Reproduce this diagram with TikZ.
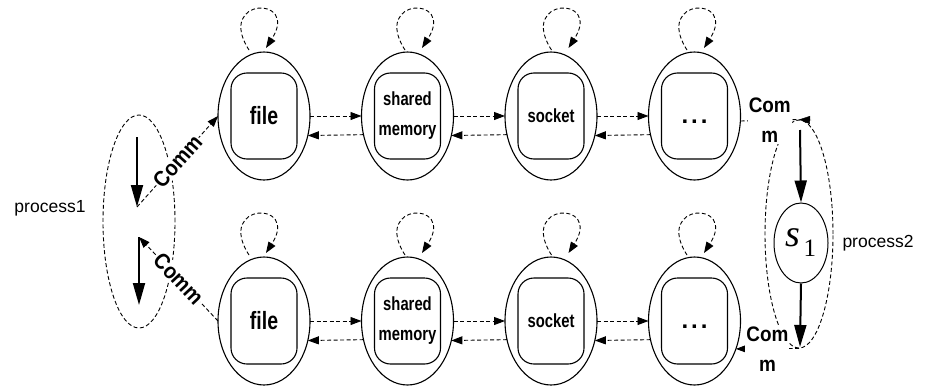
\documentclass[tikz,border=0pt]{standalone}
\usepackage{fontspec}
\usepackage{graphicx}
\setmainfont{Liberation Sans}
\newfontfamily\lblfont[FakeStretch=0.78]{Liberation Sans}
\newfontfamily\commfont[FakeStretch=0.9]{Liberation Sans}
\newfontfamily\seriffont{Liberation Serif}
\usetikzlibrary{shapes.geometric,arrows.meta,calc}
\begin{document}
\begin{tikzpicture}[x=1pt,y=-1pt,
  outerst/.style={ellipse, draw, line width=1.1pt, minimum width=92pt, minimum height=128pt, inner sep=0pt, outer sep=0pt},
  innerst/.style={draw, line width=1.1pt, rounded corners=16pt, minimum width=66pt, minimum height=86pt, inner sep=0pt, align=center, font=\lblfont\bfseries\fontsize{19}{30}\selectfont},
  dotsst/.style={innerst, font=\bfseries\fontsize{24}{24}\selectfont},
  dashst/.style={line width=0.9pt, dash pattern=on 4pt off 2.5pt},
  tipst/.style={-{Triangle[length=11pt,width=8pt]}},
  bigarrow/.style={line width=2pt, -{Triangle[length=22pt,width=12pt]}},
  commlbl/.style={fill=white, inner sep=1pt, font=\commfont\bfseries\fontsize{22}{22}\selectfont},
  commr/.style={fill=white, inner sep=1pt, align=center, font=\commfont\bfseries\fontsize{21}{30}\selectfont},
  proclbl/.style={font=\fontsize{17.5}{20}\selectfont, inner sep=0pt}
]
\useasboundingbox (0,0) rectangle (931,388);

% top row
\node[outerst] (f1) at (264,116) {};
\node[outerst] (m1) at (407.5,116) {};
\node[outerst] (k1) at (551,116) {};
\node[outerst] (d1) at (694.5,116) {};
\node[innerst, font=\lblfont\bfseries\fontsize{25}{25}\selectfont] (f1t) at (f1) {file};
\node[innerst] (m1t) at (m1) {shared\\memory};
\node[innerst] (k1t) at (k1) {socket};
\node[dotsst] (d1t) at (d1) {\smash{\raisebox{-7pt}{.\hspace{3pt}.\hspace{3pt}.}}};

% bottom row
\node[outerst] (f2) at (264,321) {};
\node[outerst] (m2) at (407.5,321) {};
\node[outerst] (k2) at (551,321) {};
\node[outerst] (d2) at (694.5,321) {};
\node[innerst, font=\lblfont\bfseries\fontsize{25}{25}\selectfont] (f2t) at (f2) {file};
\node[innerst] (m2t) at (m2) {shared\\memory};
\node[innerst] (k2t) at (k2) {socket};
\node[dotsst] (d2t) at (d2) {\smash{\raisebox{-7pt}{.\hspace{3pt}.\hspace{3pt}.}}};

% self loops
\foreach \n/\d in {f1/-7, m1/5.5, k1/8.5, d1/0.5, f2/-7, m2/5.5, k2/8.5, d2/0.5} {
  \draw[dashst, tipst] ([shift={(\d-8,-2)}]\n.north) .. controls +(-34,-53) and +(34,-53) .. ([shift={(\d+9,-4)}]\n.north);
}

% horizontal links
\foreach \a/\b in {f1/m1, m1/k1, k1/d1, f2/m2, m2/k2, k2/d2} {
  \draw[dashst, tipst] (\a.east) -- (\b.west);
  \draw[dashst, tipst] (\b.203.4) -- (\a.336.6);
}

% process1
\node[ellipse, draw, dashst, minimum width=72pt, minimum height=213pt, inner sep=0pt] (p1) at (139,221.5) {};
\node[proclbl] (p1l) at (50,208) {process1};
\coordinate (a1s) at (137,137);
\coordinate (a1e) at (137,207);
\coordinate (a2s) at (139,237);
\coordinate (a2e) at (139,305);
\draw[bigarrow] (a1s) -- (a1e);
\draw[bigarrow] (a2s) -- (a2e);
\draw[dashst, tipst] (a1e) -- (f1.west) node[midway, sloped, commlbl] {Comm};
\draw[dashst, tipst] (f2.west) -- (a2s) node[midway, sloped, commlbl] {Comm};

% process2
\node[ellipse, draw, dashst, minimum width=68pt, minimum height=228pt, inner sep=0pt] (p2) at (799,234) {};
\node[ellipse, draw, line width=1pt, minimum width=54pt, minimum height=80pt, inner sep=0pt] (sone) at (801,243) {{\seriffont\itshape\fontsize{38}{38}\selectfont s}\hspace{3pt}\raisebox{-10pt}{\seriffont\fontsize{25}{25}\selectfont 1}};
\node[proclbl] (p2l) at (878,243) {process2};
\coordinate (b1s) at (800,130);
\coordinate (b2e) at (800,347);
\draw[bigarrow] (b1s) -- (sone.north);
\draw[bigarrow] (sone.south) -- (b2e);
\draw[dashst] ([shift={(0,5)}]d1.east) -- (p2.north) node[midway, commr] {Com\\m};
\draw[-{Triangle[length=11pt,width=8pt]}] ([shift={(12,0.5)}]p2.north) -- (p2.north);
\draw[dashst, tipst] (p2.south) -- (d2.-34) node[midway, commr] {Com\\m};
\end{tikzpicture}
\end{document}
